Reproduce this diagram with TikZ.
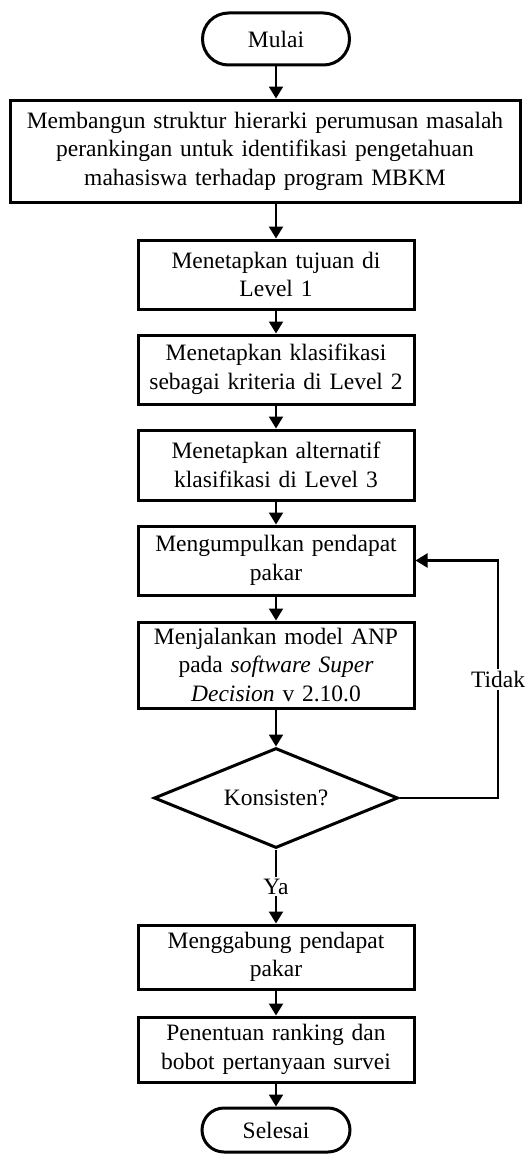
\documentclass[tikz,border=0pt]{standalone}
\usepackage{fontspec}
\setmainfont{Liberation Serif}
\usetikzlibrary{arrows.meta,shapes.geometric}
\begin{document}
\begin{tikzpicture}[x=1pt,y=-1pt,
  every node/.style={font=\fontsize{23.5}{28.5}\selectfont, align=center, inner sep=0pt},
  proc/.style={draw, line width=3pt, rectangle, minimum width=276pt, text width=270pt},
  decis/.style={draw, line width=3pt, diamond, aspect=2.4, minimum width=244pt, minimum height=100pt},
  arr/.style={line width=2.2pt, -{Triangle[width=14pt,length=12pt]}},
  lbl/.style={fill=white, inner sep=2pt}]
\useasboundingbox (0,0) rectangle (530,1156);
\node[draw, line width=3pt, rounded corners=26pt, minimum width=147pt, minimum height=52pt] (mulai) at (276,39) {Mulai};
\node[proc, minimum width=510pt, text width=500pt, minimum height=102pt] (b1) at (265,151)
  {Membangun struktur hierarki perumusan masalah\\perankingan untuk identifikasi pengetahuan\\mahasiswa terhadap program MBKM};
\node[proc, minimum height=69pt] (b2) at (276,274.5) {Menetapkan tujuan di\\Level 1};
\node[proc, minimum height=69pt] (b3) at (276,369.5) {Menetapkan klasifikasi\\sebagai kriteria di Level 2};
\node[proc, minimum height=70pt] (b4) at (276,465) {Menetapkan alternatif\\klasifikasi di Level 3};
\node[proc, minimum height=69pt] (b5) at (276,560.5) {Mengumpulkan pendapat\\pakar};
\node[proc, minimum height=86pt] (b6) at (276,665) {Menjalankan model ANP\\pada \textit{software Super}\\\textit{Decision} v 2.10.0};
\node[decis] (d) at (276,798) {Konsisten?};
\node[proc, minimum height=64pt] (b7) at (276,957) {Menggabung pendapat\\pakar};
\node[proc, minimum height=65pt] (b8) at (276,1049.5) {Penentuan ranking dan\\bobot pertanyaan survei};
\node[draw, line width=3pt, rounded corners=22pt, minimum width=148pt, minimum height=44pt] (selesai) at (276,1130) {Selesai};
\coordinate (c) at (498,798);
\draw[arr] (mulai.south) -- (mulai.south |- b1.north);
\draw[arr] (b1.south -| b2.north) -- (b2.north);
\draw[arr] (b2) -- (b3);
\draw[arr] (b3) -- (b4);
\draw[arr] (b4) -- (b5);
\draw[arr] (b5) -- (b6);
\draw[arr] (b6.south) -- (d.north);
\draw[arr] (d.south) -- node[lbl]{Ya} (b7.north);
\draw[arr] (b7) -- (b8);
\draw[arr] (b8) -- (selesai);
\draw[arr] (d.east) -- (c) |- node[pos=0.25, lbl]{Tidak} (b5.east);
\end{tikzpicture}
\end{document}
